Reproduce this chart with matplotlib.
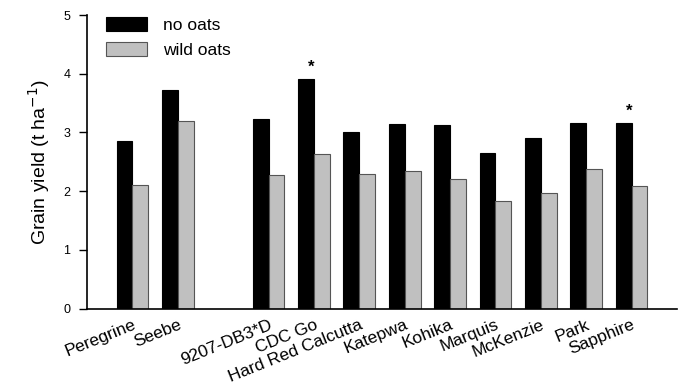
import matplotlib
matplotlib.use("Agg")
import matplotlib.pyplot as plt
import numpy as np

plt.rcParams['font.family'] = ['Liberation Sans', 'DejaVu Sans']

cultivars = ["Peregrine", "Seebe", "9207-DB3*D", "CDC Go", "Hard Red Calcutta",
             "Katepwa", "Kohika", "Marquis", "McKenzie", "Park", "Sapphire"]
positions = [1, 2, 4, 5, 6, 7, 8, 9, 10, 11, 12]
no_oats = [2.86, 3.73, 3.23, 3.91, 3.01, 3.14, 3.13, 2.65, 2.90, 3.16, 3.16]
wild_oats = [2.11, 3.19, 2.27, 2.64, 2.30, 2.35, 2.21, 1.83, 1.97, 2.38, 2.09]
significant = ["CDC Go", "Sapphire"]

fig = plt.figure(figsize=(6.81, 3.89), dpi=100)
ax = fig.add_axes([0.1278, 0.2064, 0.8662, 0.755])

w = 0.35
pos = np.array(positions, dtype=float)
ax.bar(pos - w/2, no_oats, width=w, color='black', edgecolor='black', linewidth=0.8, label='no oats')
ax.bar(pos + w/2, wild_oats, width=w, color='#c0c0c0', edgecolor='#555555', linewidth=0.8, label='wild oats')

for name, p, v in zip(cultivars, positions, no_oats):
    if name in significant:
        ax.text(p - w/2 + 0.12, v + 0.07, '*', ha='center', va='bottom', fontsize=12, fontweight='bold')

ax.set_xlim(0, 13)
ax.set_ylim(0, 5)
ax.set_yticks([0, 1, 2, 3, 4, 5])
ax.tick_params(axis='y', direction='out', length=6, width=1, labelsize=9, pad=6)
ax.set_xticks(positions)
ax.set_xticklabels(cultivars, rotation=22, ha='right', va='top', rotation_mode='anchor', fontsize=12.5)
ax.tick_params(axis='x', length=0, pad=6)
for s in ['top', 'right']:
    ax.spines[s].set_visible(False)
ax.spines['left'].set_linewidth(1.2)
ax.spines['bottom'].set_linewidth(1.2)

ax.set_ylabel('Grain yield (t ha$^{-1}$)', fontsize=14, labelpad=8)

ax.legend(loc='upper left', bbox_to_anchor=(0.005, 1.045), frameon=False, fontsize=12.5,
          handlelength=2.4, handleheight=0.85, handletextpad=0.9, labelspacing=0.5)

fig.savefig('out.png', dpi=100)
